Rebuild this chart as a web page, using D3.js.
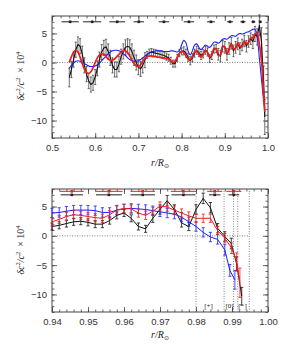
<!DOCTYPE html>
<html><head><meta charset="utf-8">
<script src="https://cdn.jsdelivr.net/npm/d3@7"></script>
<style>body{margin:0;background:#fff}svg{display:block}</style>
</head><body><svg id="c" width="284" height="346"></svg>
<script>
// ---------- DATA ----------
const topR = [0.540,0.545,0.550,0.555,0.560,0.565,0.570,0.575,0.580,0.585,0.590,0.595,0.600,0.605,0.610,0.615,0.620,0.625,0.630,0.635,0.640,0.645,0.650,0.655,0.660,0.665,0.670,0.675,0.680,0.685,0.690,0.695,0.700,0.705,0.710,0.715,0.720,0.725,0.730,0.735,0.740,0.745,0.750,0.755,0.760,0.765,0.770,0.775,0.780,0.785,0.790,0.795,0.800,0.805,0.810,0.815,0.820,0.825,0.830,0.835,0.840,0.845,0.850,0.855,0.860,0.865,0.870,0.875,0.880,0.885,0.890,0.895,0.900,0.905,0.910,0.915,0.920,0.925,0.930,0.935,0.940,0.945,0.950,0.955,0.960,0.965,0.970,0.975,0.980,0.985,0.990,0.9925];
const topBlack = [-2.6,-1.2,0.5,2.2,3.1,2.8,1.5,-0.5,-2.0,-3.2,-3.8,-3.5,-2.5,-1.0,0.5,1.8,2.5,2.7,1.9,0.8,-0.5,-1.2,-1.2,-0.3,1.0,1.9,2.6,2.8,2.6,1.9,0.8,0.0,-0.8,-1.1,-0.5,0.4,1.3,1.7,1.8,1.7,1.6,1.5,1.4,1.3,1.2,1.0,0.8,0.3,-0.2,-0.2,0.8,1.6,1.9,2.0,1.6,0.9,0.3,0.8,1.6,2.1,1.7,1.2,1.5,2.1,1.8,0.7,1.2,2.3,2.4,1.4,1.1,2.8,2.6,1.4,2.4,3.3,2.0,2.6,3.2,2.4,3.0,3.7,2.8,3.6,4.1,3.6,4.9,4.4,6.4,3.5,-3.6,-9.4];
const topBlackErr = [1.6,1.4,1.3,1.3,1.3,1.3,1.3,1.3,1.3,1.3,1.3,1.3,1.3,1.3,1.3,1.3,1.3,1.3,1.3,1.3,1.3,1.3,1.3,1.3,1.3,1.3,1.3,1.3,1.3,1.3,1.3,1.3,1.3,1.3,1.3,1.3,0.6,0.6,0.6,0.6,0.6,0.6,0.6,0.6,0.6,0.6,0.6,0.6,0.6,0.6,0.6,0.6,0.6,0.7,0.7,0.7,0.7,0.7,0.7,0.7,0.7,0.7,0.7,0.7,0.7,0.7,0.7,0.7,0.7,1.0,1.0,1.0,1.0,1.0,1.0,1.0,1.0,1.0,1.0,1.0,1.0,1.0,1.0,1.0,1.0,1.2,1.3,1.4,1.8,2.5,3.0,3.0];
const topRed = [0.0,1.0,1.8,2.1,1.8,0.9,-0.2,-1.1,-1.7,-1.9,-1.6,-0.9,0.0,0.8,1.3,1.5,1.4,1.0,0.6,0.4,0.4,0.6,1.0,1.4,1.8,2.0,2.0,1.7,1.1,0.4,-0.2,-0.6,-0.7,-0.4,0.2,0.7,1.0,1.1,1.1,1.0,1.0,0.9,0.9,0.8,0.8,0.7,0.6,0.3,0.0,0.2,0.9,1.6,1.9,1.7,1.2,0.6,0.5,1.1,1.8,2.0,1.4,0.9,1.4,2.1,1.7,0.9,1.4,2.4,2.3,1.2,1.3,2.8,2.7,1.6,2.2,3.2,2.4,2.4,3.4,2.8,2.7,3.7,3.2,3.4,4.3,4.2,4.9,5.0,3.2,0.3,-6.0,-8.5];
const topBlue = [-1.0,-0.5,-0.1,0.2,0.3,0.2,0.0,-0.2,-0.4,-0.6,-0.7,-0.7,-0.6,-0.4,-0.1,0.3,0.7,1.1,1.5,1.8,2.0,2.1,2.1,2.0,1.8,1.5,1.2,0.8,0.5,0.3,0.2,0.2,0.3,0.5,0.8,1.1,1.4,1.6,1.8,1.9,2.0,2.0,2.0,2.0,1.9,1.9,1.9,2.0,2.0,1.9,1.8,2.1,3.0,3.8,3.4,2.0,1.3,2.0,3.0,3.2,2.6,2.2,2.6,3.0,2.8,2.6,3.0,3.5,3.5,3.3,3.6,4.0,4.1,4.0,4.3,4.6,4.6,4.5,4.8,5.0,4.9,5.0,5.2,5.3,5.5,5.7,5.7,4.3,0.8,-3.0,-6.5,-7.8];
const topRowR = [0.542,0.593,0.651,0.701,0.759,0.817,0.868,0.912,0.942,0.966,0.982];
const topRowHalf = [0.020,0.021,0.018,0.012,0.012,0.012,0.009,0.007,0.006,0.0045,0.0035];
const topRowV = 7.0;

const botBlackR = [0.940,0.942,0.944,0.946,0.948,0.950,0.952,0.954,0.956,0.958,0.960,0.962,0.964,0.966,0.968,0.970,0.972,0.974,0.976,0.978,0.980,0.982,0.984,0.986,0.988,0.9898,0.9913,0.9927];
const botBlack = [1.6,1.8,2.1,2.4,2.5,2.3,2.0,2.0,2.6,3.5,3.9,3.0,1.6,1.2,3.0,4.5,6.0,4.5,2.2,1.6,4.5,6.4,4.8,1.3,-0.1,-1.3,-4.8,-10.3];
const botBlackErr = [0.6,0.6,0.6,0.6,0.6,0.6,0.6,0.6,0.6,0.6,0.6,0.6,0.6,0.6,0.7,0.8,0.9,0.8,0.7,0.7,0.8,0.9,0.9,0.8,0.8,0.9,1.2,1.5];
const botRedR = [0.940,0.942,0.944,0.946,0.948,0.950,0.952,0.954,0.956,0.958,0.960,0.962,0.964,0.966,0.968,0.970,0.972,0.974,0.976,0.978,0.980,0.982,0.984,0.986,0.988,0.9899,0.9913,0.9922];
const botRed = [2.4,2.8,3.3,3.6,3.5,3.3,3.1,3.0,3.6,4.4,4.7,4.6,3.9,3.5,4.2,5.1,4.9,4.4,3.9,3.4,3.0,3.0,3.0,0.9,-0.4,-2.1,-4.4,-8.0];
const botRedErr = [0.7,0.7,0.7,0.7,0.7,0.7,0.7,0.7,0.7,0.7,0.7,0.7,0.7,0.7,0.7,0.7,0.7,0.7,0.7,0.7,0.7,0.7,0.7,0.7,0.8,0.9,1.5,2.5];
const botBlueR = [0.940,0.942,0.944,0.946,0.948,0.950,0.952,0.954,0.956,0.958,0.960,0.962,0.964,0.966,0.968,0.970,0.972,0.974,0.976,0.978,0.980,0.982,0.984,0.986,0.988,0.9894,0.9908];
const botBlue = [3.9,4.0,4.2,4.4,4.4,4.4,4.3,4.0,4.0,4.4,4.6,4.7,4.6,4.5,4.3,4.1,3.9,3.7,3.2,2.4,1.6,0.6,-0.2,-0.6,-2.4,-5.9,-7.5];
const botBlueErr = [0.8,0.8,0.8,0.8,0.8,0.8,0.8,0.8,0.8,0.8,0.8,0.8,0.8,0.8,0.8,0.8,0.8,0.8,0.8,0.8,0.8,0.8,0.8,0.8,0.9,1.0,1.6];
const botRowR = [0.9455,0.9558,0.9652,0.9765,0.9852,0.9905];
const botRowRedHalf = [0.0033,0.0038,0.0034,0.0035,0.0021,0.0021];
const botRowBlackHalf = [0.0031,0.0036,0.0034,0.0033,0.0016,0.0015];
const botRowRedV = 7.6, botRowBlackV = 7.0;
const botVLines = [0.980,0.9878,0.9904,0.9916,0.9948];
const regionLabels = ["[+]","[0]","[\u2212]"];
const regionLabelR = [0.9835,0.9893,0.9929];

const topXTicks = [0.5,0.6,0.7,0.8,0.9,1.0];
const botXTicks = [0.94,0.95,0.96,0.97,0.98,0.99,1.00];
const yTicks = [-10,-5,0,5];

// ---------- DRAW ----------
const svg = d3.select("#c");
svg.append("rect").attr("width",284).attr("height",346).attr("fill","#fff");
const RED = "#ee1c1c", BLUE = "#1f1fff", BLK = "#111";
const fmtY = d => d < 0 ? "\u2212" + Math.abs(d) : String(d);

function panel(opts) {
  const {x0,x1,top,bot,xDom,xTicks,xMinor,xFmt} = opts;
  const x = d3.scaleLinear().domain(xDom).range([x0,x1]);
  const y = d3.scaleLinear().domain([-13,8]).range([bot,top]);
  const g = svg.append("g");
  const yMinor = d3.range(-13,9,1);
  const axStyle = sel => { sel.select(".domain").remove(); sel.selectAll("line").attr("stroke","#444").attr("stroke-width",0.8);
    sel.selectAll("text").attr("fill","#333").attr("font-family","Liberation Sans, Arial, sans-serif").attr("font-size","9.5px"); };
  g.append("g").attr("transform",`translate(0,${bot})`).call(d3.axisBottom(x).tickValues(xTicks).tickSize(-5).tickPadding(6).tickFormat(xFmt)).call(axStyle);
  g.append("g").attr("transform",`translate(0,${bot})`).call(d3.axisBottom(x).tickValues(xMinor).tickSize(-2.5).tickFormat("")).call(axStyle);
  g.append("g").attr("transform",`translate(0,${top})`).call(d3.axisTop(x).tickValues(xTicks).tickSize(-5).tickFormat("")).call(axStyle);
  g.append("g").attr("transform",`translate(0,${top})`).call(d3.axisTop(x).tickValues(xMinor).tickSize(-2.5).tickFormat("")).call(axStyle);
  g.append("g").attr("transform",`translate(${x0},0)`).call(d3.axisLeft(y).tickValues(yTicks).tickSize(-5).tickPadding(5).tickFormat(fmtY)).call(axStyle);
  g.append("g").attr("transform",`translate(${x0},0)`).call(d3.axisLeft(y).tickValues(yMinor).tickSize(-2.5).tickFormat("")).call(axStyle);
  g.append("g").attr("transform",`translate(${x1},0)`).call(d3.axisRight(y).tickValues(yTicks).tickSize(-5).tickFormat("")).call(axStyle);
  g.append("g").attr("transform",`translate(${x1},0)`).call(d3.axisRight(y).tickValues(yMinor).tickSize(-2.5).tickFormat("")).call(axStyle);
  g.append("rect").attr("x",x0).attr("y",top).attr("width",x1-x0).attr("height",bot-top)
    .attr("fill","none").attr("stroke","#444").attr("stroke-width",1);
  return {x,y,g};
}

function errBars(g, x, y, rs, vs, es, color, cap, sw) {
  rs.forEach((r,i) => {
    const xx = x(r), y1 = y(vs[i]-es[i]), y2 = y(vs[i]+es[i]);
    g.append("line").attr("x1",xx).attr("x2",xx).attr("y1",y1).attr("y2",y2).attr("stroke",color).attr("stroke-width",sw);
    [y1,y2].forEach(yy => g.append("line").attr("x1",xx-cap).attr("x2",xx+cap).attr("y1",yy).attr("y2",yy).attr("stroke",color).attr("stroke-width",sw));
  });
}
function series(g, x, y, rs, vs, color, w, curve) {
  const line = d3.line().x(d=>x(d[0])).y(d=>y(d[1])).curve(curve || d3.curveLinear);
  g.append("path").datum(rs.map((r,i)=>[r,vs[i]])).attr("d",line).attr("fill","none")
    .attr("stroke",color).attr("stroke-width",w).attr("stroke-linejoin","round");
}
function hRow(g, x, y, rs, halves, v, color) {
  rs.forEach((r,i) => {
    g.append("line").attr("x1",x(r-halves[i])).attr("x2",x(r+halves[i])).attr("y1",y(v)).attr("y2",y(v))
      .attr("stroke",color).attr("stroke-width",1);
    g.append("rect").attr("x",x(r)-1.3).attr("y",y(v)-1.3).attr("width",2.6).attr("height",2.6).attr("fill",color);
  });
}
function yLabel(cx, cy) {
  const t = svg.append("text").attr("transform",`translate(${cx},${cy}) rotate(-90)`).attr("text-anchor","middle")
    .attr("font-family","Liberation Serif, Times New Roman, serif").attr("font-size","10px").attr("fill","#222");
  t.append("tspan").attr("font-style","italic").text("\u03b4c");
  t.append("tspan").attr("font-size","6.5px").attr("dy","-4").text("2");
  t.append("tspan").attr("font-style","italic").attr("dy","4").text("/c");
  t.append("tspan").attr("font-size","6.5px").attr("dy","-4").text("2");
  t.append("tspan").attr("dy","4").text("\u2002\u00d7 10");
  t.append("tspan").attr("font-size","6.5px").attr("dy","-4").text("4");
}
function xLabel(cx, cy) {
  const t = svg.append("text").attr("x",cx).attr("y",cy).attr("text-anchor","middle")
    .attr("font-family","Liberation Serif, Times New Roman, serif").attr("font-size","10px").attr("fill","#222").attr("font-style","italic");
  t.append("tspan").text("r/R");
  t.append("tspan").attr("font-size","6px").attr("dy","2").attr("font-style","normal").text("\u2299");
}

// Top panel
const topMinor = d3.range(0.5,1.0001,0.02).map(v=>+v.toFixed(3));
const P1 = panel({x0:52,x1:268,top:16,bot:138,xDom:[0.5,1.0],xTicks:topXTicks,xMinor:topMinor,xFmt:d3.format(".1f")});
P1.g.append("line").attr("x1",P1.x(0.5)).attr("x2",P1.x(0.995)).attr("y1",P1.y(0)).attr("y2",P1.y(0))
  .attr("stroke","#777").attr("stroke-width",0.9).attr("stroke-dasharray","1,1.5");
errBars(P1.g,P1.x,P1.y,topR,topBlack,topBlackErr,"#333",1.1,0.7);
series(P1.g,P1.x,P1.y,topR,topBlack,BLK,1.1);
series(P1.g,P1.x,P1.y,topR,topBlue,BLUE,1.1,d3.curveCatmullRom);
series(P1.g,P1.x,P1.y,topR,topRed,RED,1.7,d3.curveCatmullRom);
hRow(P1.g,P1.x,P1.y,topRowR,topRowHalf,topRowV,"#222");
yLabel(24,76);
xLabel(160,166);

// Bottom panel
const botMinor = d3.range(0.94,1.0001,0.002).map(v=>+v.toFixed(3));
const P2 = panel({x0:52,x1:268,top:189,bot:312,xDom:[0.94,1.0],xTicks:botXTicks,xMinor:botMinor,xFmt:d3.format(".2f")});
const dot = sel => sel.attr("stroke","#777").attr("stroke-width",0.9).attr("stroke-dasharray","1,1.5");
P2.g.append("line").attr("x1",P2.x(0.94)).attr("x2",P2.x(0.9948)).attr("y1",P2.y(0)).attr("y2",P2.y(0)).call(dot);
botVLines.forEach(r => P2.g.append("line").attr("x1",P2.x(r)).attr("x2",P2.x(r)).attr("y1",P2.y(-13)).attr("y2",P2.y(8)).call(dot));
errBars(P2.g,P2.x,P2.y,botBlackR,botBlack,botBlackErr,BLK,1.6,0.8);
series(P2.g,P2.x,P2.y,botBlackR,botBlack,BLK,1);
errBars(P2.g,P2.x,P2.y,botBlueR,botBlue,botBlueErr,BLUE,1.6,0.8);
series(P2.g,P2.x,P2.y,botBlueR,botBlue,BLUE,1);
errBars(P2.g,P2.x,P2.y,botRedR,botRed,botRedErr,RED,1.6,0.8);
series(P2.g,P2.x,P2.y,botRedR,botRed,RED,1);
hRow(P2.g,P2.x,P2.y,botRowR,botRowRedHalf,botRowRedV,RED);
hRow(P2.g,P2.x,P2.y,botRowR,botRowBlackHalf,botRowBlackV,"#222");
regionLabels.forEach((s,i) => P2.g.append("text").attr("x",P2.x(regionLabelR[i])).attr("y",P2.y(-12.3)).attr("text-anchor","middle")
  .attr("font-family","Liberation Serif, Times New Roman, serif").attr("font-size","7px").attr("fill","#222").text(s));
yLabel(24,250);
xLabel(160,338);
</script></body></html>
